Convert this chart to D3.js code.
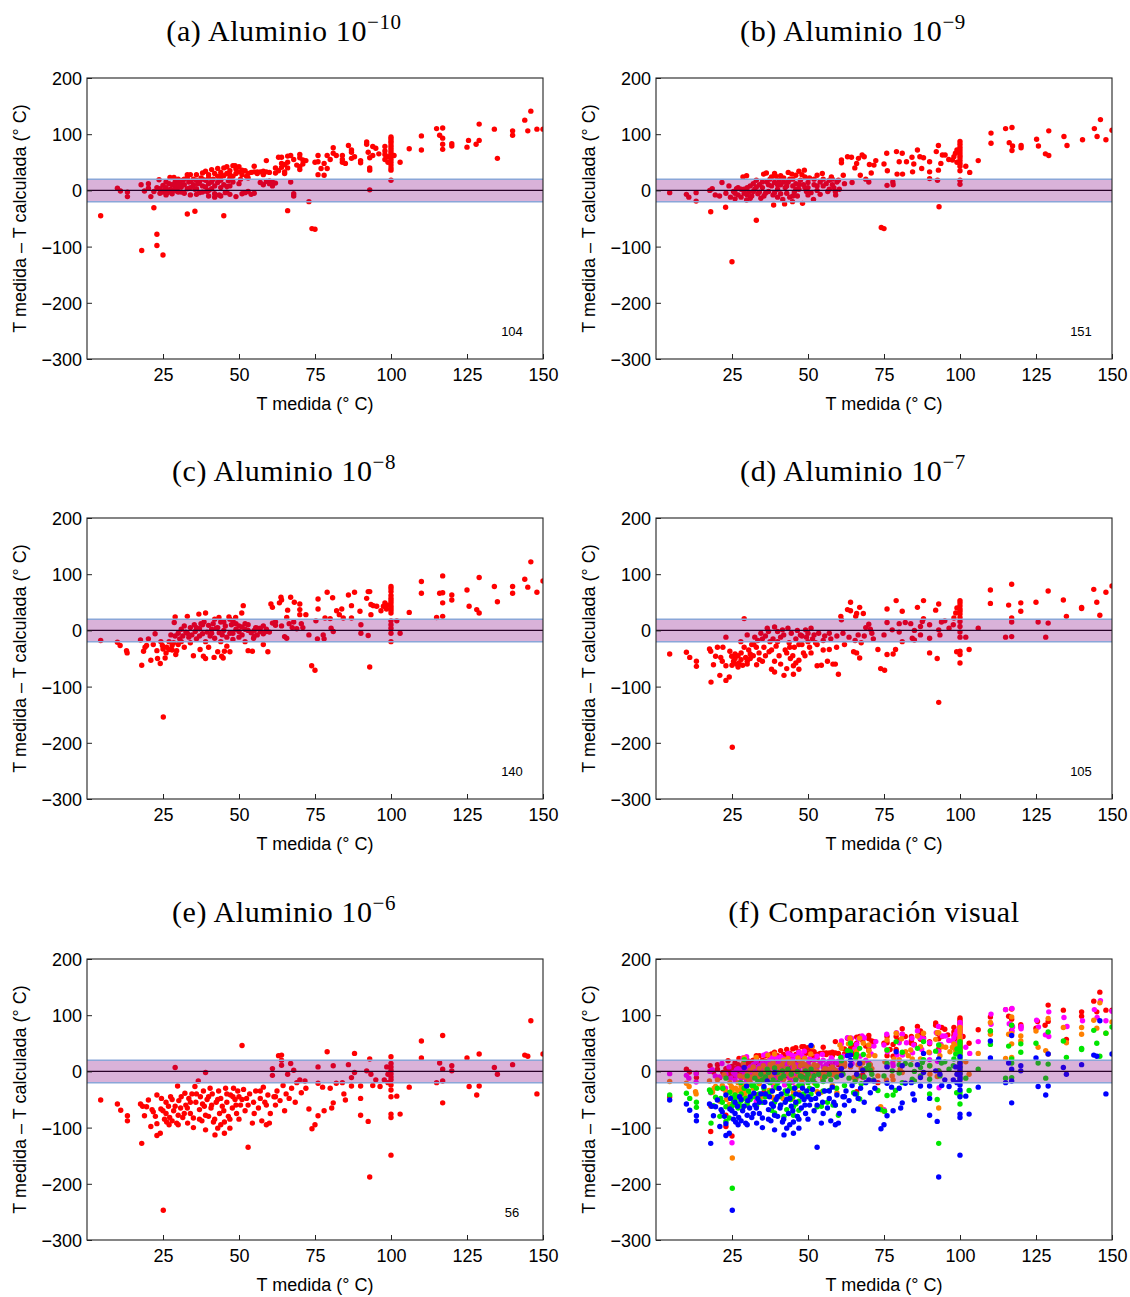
<!DOCTYPE html>
<html><head><meta charset="utf-8">
<script src="https://cdn.jsdelivr.net/npm/d3@7"></script>
<style>body{margin:0;background:#fff}</style>
</head><body>
<svg id="chart" width="1130" height="1297"></svg>
<script>
const xTicks = [25, 50, 75, 100, 125, 150];
const yTicks = [200, 100, 0, -100, -200, -300];
const panelTitles = [
  ["(a) Aluminio 10", "−10"], ["(b) Aluminio 10", "−9"],
  ["(c) Aluminio 10", "−8"], ["(d) Aluminio 10", "−7"],
  ["(e) Aluminio 10", "−6"], ["(f) Comparación visual", ""]
];
const panelCounts = ["104", "151", "140", "105", "56", ""];
const seriesColors = ["#ff0000", "#ff00ff", "#ff8000", "#00e600", "#0000ff"];
const bandLimits = [-20, 20];

const dataA = [[4.5,-45],[10,4],[11,-1],[13.3,-3],[13.3,-11],[18,-107],[17.8,10],[18.9,-1],[20.2,12],[20.2,4],[21,-11],[22,-31],[23,-78],[23,-98],[25,-115],[23.7,19],[24,3],[25,9],[25,-3],[25.5,1],[26,5],[26.5,-4],[27,12],[27.3,23],[27.5,2],[28,-2],[28.6,23],[29,8],[29,15],[29.5,-1],[30,20],[30,5],[30.5,12],[31,-3],[31.5,18],[32,10],[33,-42],[33,28],[33.5,15],[34,28],[34,5],[35.5,-37],[35,20],[35.5,2],[36,28],[36.5,12],[37,-4],[37.5,22],[38,31],[38,8],[39,18],[39,34],[39.5,-2],[40,28],[40,12],[41,37],[41,3],[41.5,20],[42,-6],[42,30],[43,39],[43,14],[43.5,-8],[44,25],[44,5],[45,40],[45,-45],[45,10],[45.5,-4],[46,42],[46,30],[46.5,17],[47,35],[47,8],[48,44],[48,25],[48.7,44],[49,-11],[49,30],[50,42],[50,33],[50.5,20],[51,28],[52,-4],[52,35],[52.5,25],[53,22],[54,-7],[54,32],[55,43],[55,33],[56,33],[57,33],[58,34],[59,53],[59,33],[60,12],[60,32],[61,8],[61,15],[62,31],[62,13],[63,59],[63,35],[64,59],[64,41],[64,48],[65,46],[65,33],[65,30],[66,61],[66,40],[66,-36],[67,62],[67,15],[68,-6],[68,-10],[68,55],[70,64],[70,58],[70,37],[70,42],[71,54],[71,47],[72,53],[73,-20],[74,-68],[75,-69],[75,50],[76,28],[76,62],[76,51],[77,39],[78,27],[78,48],[79,39],[79,62],[80,55],[81,76],[81,66],[82,62],[84,55],[84,62],[84,50],[85,48],[86,80],[87,68],[87,57],[87,72],[88,60],[90,53],[90,49],[92,86],[92,82],[92.5,68],[93,40],[93,36],[93,1],[93,58],[94,62],[94,78],[95,75],[96,65],[98,78],[98,64],[98,55],[98,70],[99,60],[99,50],[100,95],[100,92],[100,88],[100,85],[100,80],[100,76],[100,72],[100,68],[100,64],[100,60],[100,55],[100,50],[100,45],[100,40],[100,36],[100,18],[101,62],[103,50],[106,74],[110,97],[110,72],[115,110],[116,98],[117,111],[117,93],[117,82],[117,73],[120,83],[120,79],[125,77],[125.5,89],[128,82],[129,89],[129,118],[134,109],[135,57],[140,106],[140,98],[144,125],[145,106],[146,141],[148,109],[150,109],[22,-2],[23,5],[24,-5],[26,-8],[28,-6],[30,-3],[32,-5],[34,-8],[36,-7],[38,-3],[40,-10],[42,-12],[44,-10],[46,-3],[47,-7],[30,14],[33,22],[36,18],[40,22],[44,18],[47,22],[50,12],[51,-6],[53,-2],[55,-5],[57,14],[58,10],[59,16],[60,17],[26,15],[27,-1],[28,10],[29,3],[31,6],[32,20],[33,3],[34,16],[35,10],[36,3],[37,15],[38,20],[39,6],[40,0],[41,15],[42,8],[43,25],[44,32],[45,26],[46,7],[47,28],[48,15],[49,38],[51,36],[53,30],[56,30],[58,28],[62,40],[66,50],[69,45]];

const dataB = [[4.5,-4],[10,-7],[10.8,-12],[13.2,-4],[13.2,-19],[18,-38],[17.7,0],[18.5,3],[19.5,-8],[20.9,-10],[21.7,14],[22.9,-30],[23,-5],[24,8],[25,-127],[24.5,-12],[25.5,-2],[26,-15],[26.5,3],[27,-8],[28,2],[28,-12],[28.6,24],[29,-5],[29.8,26],[29.8,-17],[30,5],[30.5,-3],[31,8],[31.5,-10],[32,12],[32.5,2],[33,-53],[33,18],[33.5,-6],[34,10],[34.5,-14],[35,5],[35.4,29],[35.5,-10],[36.3,31],[36.5,15],[37,-2],[37.5,20],[38,8],[38.7,-26],[38.5,-8],[39,30],[39,14],[39.5,25],[40,2],[40,-12],[40.5,18],[41,26],[41,10],[41.7,-16],[42,22],[42.3,-24],[42.5,5],[43,-5],[43.5,32],[43.5,15],[44,-12],[44.7,29],[44.9,-20],[45,20],[45,8],[45.5,-3],[46,27],[46,12],[46.5,-10],[47,34],[47,2],[47.5,18],[48.2,-23],[48.8,36],[48.5,10],[49,24],[49.5,-2],[50,14],[50,5],[50.5,22],[51,-4],[51.8,-16],[52,10],[53,27],[53,0],[54,-7],[54,15],[54.7,30],[55,20],[56,12],[56.5,-2],[57,18],[57.7,24],[58,10],[58.5,5],[59.1,-8],[59.5,15],[60.3,2],[60,18],[61,54],[61,49],[61.6,27],[62,12],[63,60],[64.3,59],[64.5,14],[65.4,40],[66,48],[66.6,57],[67.2,27],[67.8,63],[68.5,60],[69,20],[70,15],[70.2,46],[70.8,31],[71.7,45],[72.3,53],[74.1,-66],[75,-68],[75,47],[75.9,66],[76.1,35],[76,9],[77.9,15],[78,10],[79.1,69],[79.3,29],[80,51],[81,66],[81.1,29],[82.4,51],[84.2,59],[84.4,33],[84.8,47],[86,72],[86.8,60],[87.4,39],[88,58],[90,51],[90,33],[90,21],[92.2,69],[92.9,80],[92.9,36],[92.6,18],[93.1,-29],[93.7,48],[94.2,63],[95.1,63],[96.3,55],[97.5,54],[98,60],[98.5,66],[99,72],[99,50],[100,87],[100,82],[100,77],[100,72],[100,67],[100,62],[100,58],[100,53],[100,48],[100,43],[100,35],[100,18],[100,11],[101.9,43],[103.2,32],[106,53],[110.2,102],[110.2,84],[115,110],[116.2,85],[117.1,112],[117.3,79],[117.1,71],[120.1,80],[120.1,76],[125.2,91],[125.8,79],[128.1,65],[129.2,106],[129.2,62],[134.2,96],[135.2,80],[140.3,90],[144.2,110],[146.2,126],[145.1,96],[148,90],[150,107],[26,-5],[27,5],[29,2],[30,-8],[31,-14],[32,-2],[33,6],[34,-3],[35,15],[36,-5],[37,10],[38,24],[39,-4],[40,10],[41,-6],[42,15],[43,8],[44,20],[45,-10],[46,2],[47,10],[48,28],[49,5],[50,-8],[52,20],[53,8],[55,8],[57,2],[58,20],[59,-2]];

const dataC = [[4.5,-18],[10,-21],[10.9,-27],[13,-36],[13.2,-40],[17.6,-17],[18,-62],[18.6,-37],[19.1,-30],[19.6,-27],[20.2,-15],[21,-53],[21.8,-25],[22.4,-6],[23,-36],[23.2,-50],[24.1,-59],[24.3,-20],[24.8,-27],[25.1,-154],[25,-33],[25.7,-49],[26.2,-30],[27,-34],[27.6,-8],[28,-27],[28.5,-22],[28.7,14],[29,24],[29.2,-43],[29.5,-36],[30,-5],[30.5,-15],[31,2],[31.5,-10],[32,8],[32.5,-3],[33,25],[33.5,-12],[34,5],[34.5,-8],[35,-45],[35.3,10],[35.6,-2],[36,-15],[36.8,29],[37,3],[37.2,-34],[37.5,12],[38,-6],[38.3,-46],[38.5,15],[39,-50],[39,31],[39.5,-3],[40,9],[40.5,-10],[41,2],[41.5,12],[41.8,-48],[42,-14],[42.5,4],[43,-38],[43.4,23],[43.5,-4],[44,15],[44.3,-46],[44.5,-8],[44.8,-49],[45,0],[45.2,-37],[45.5,8],[46,-12],[46.7,24],[47,-38],[47,-5],[47.5,10],[48,-16],[48,17],[48.9,23],[49,2],[50,-2],[50,8],[50.9,31],[51.4,44],[51,-8],[52,12],[52,2],[53,-36],[53,0],[54,-4],[54.4,-37],[54.8,-14],[55,0],[55.5,5],[56,-8],[57,4],[57,-2],[58,-25],[58,-6],[59,2],[59.5,-38],[59,-2],[60,-3],[60.5,47],[61,41],[61,13],[62,9],[62,15],[63.3,49],[63.8,59],[64,54],[64,8],[65,-11],[65.7,-14],[65.7,23],[66,36],[66.5,12],[67,59],[67.5,5],[68.2,50],[68,15],[69,3],[70,47],[70,37],[70,28],[70.5,12],[71,5],[72,28],[73,-8],[73.9,-63],[75,-71],[75.3,17],[75.8,-15],[76,38],[76,56],[77.7,-8],[78,-15],[78.3,22],[79,68],[80,21],[80.3,4],[80.8,58],[81,-2],[82.1,35],[83,28],[83.8,38],[84.3,22],[86,63],[87,44],[87,22],[88,68],[89.8,34],[90.1,10],[90.1,-5],[92,57],[92.5,69],[93,69],[93.4,46],[93.4,28],[92.5,-9],[93,-65],[94.2,44],[95.3,43],[96.7,35],[97.5,43],[98,49],[98.5,38],[99,45],[100,78],[100,74],[100,69],[100,62],[100,57],[100,53],[100,49],[100,44],[100,40],[100,36],[100,31],[100,17],[100,10],[100,4],[100,-5],[100,-20],[101.9,17],[103,-5],[106,32],[110,87],[110,66],[115,23],[116,66],[117,67],[117,97],[117,49],[117,25],[120,63],[120,54],[125,72],[125.7,43],[128.2,37],[129,94],[129,31],[134,78],[135,51],[140,78],[140,66],[144,91],[145,77],[146,122],[148,68],[150,88],[26,-40],[27,-20],[28,-35],[29,-10],[30,-25],[31,-20],[32,-30],[33,-5],[34,-22],[36,5],[37,-10],[38,10],[39,-20],[40,-30],[41,-5],[42,20],[43,5],[44,-20],[45,15],[46,-28],[47,20],[48,-5],[49,12],[50,-12],[51,6],[52,-20],[53,10],[55,-10],[56,4],[58,8]];

const dataD = [[4.5,-42],[10,-39],[11.1,-48],[13.3,-55],[13.3,-64],[17.6,-33],[18,-37],[18.1,-92],[18.9,-61],[19.6,-46],[20.2,-30],[21,-80],[21.3,-48],[21.8,-55],[22,-30],[23,-12],[23,-63],[23,-89],[24.1,-83],[24.3,-37],[24.9,-46],[25.1,-208],[25.5,-55],[26,-50],[26.5,-60],[27,-45],[27.3,-58],[27.9,-20],[28,-52],[28.5,-62],[29,21],[29.5,-48],[30,-8],[30,-55],[30.5,-35],[31,-42],[31.5,-25],[32.2,-25],[32.5,-12],[33.1,-61],[33.5,-18],[33.9,-40],[34.5,-5],[35,-55],[35.5,-30],[36,-10],[36.6,4],[37.2,-38],[37.5,-20],[38,-69],[38.5,-15],[39,-74],[39,6],[39.5,-28],[40,-2],[40.5,-45],[41,-12],[41.6,1],[42.1,-80],[42.5,-35],[43,-68],[43.4,4],[43.8,-22],[44.2,-50],[44.5,-5],[45.2,-78],[45.2,-63],[45.5,-30],[46,-15],[46.5,0],[47,-53],[47,-69],[47.5,-8],[48,-25],[48.5,-40],[49.2,1],[49.5,-12],[50,-20],[50.5,-30],[51,4],[51.5,-15],[52,-8],[52.5,-22],[53,-63],[53.5,-5],[54.4,-62],[55,-18],[55.5,-10],[56.4,-55],[57,-34],[57.5,-15],[58.2,-60],[59,-60],[59.4,-30],[59.5,-10],[60,-78],[60.8,25],[61,19],[61.5,-5],[62,-25],[63,37],[63.5,-12],[64,50],[64,35],[65,-38],[65.5,-18],[65.7,25],[66,30],[66,-40],[66.5,-8],[67,41],[67,-49],[67.5,-22],[68.2,30],[68.5,-10],[69,5],[70,11],[70.5,2],[71,-5],[71.5,-15],[73,-34],[73.9,-68],[75.2,-71],[75,-8],[76,38],[76,14],[76,-43],[77.7,1],[78,-42],[78.8,-34],[79,53],[80,12],[80,-3],[81,34],[81,-20],[82,14],[83.8,12],[84.3,-14],[85,0],[85,-17],[86,41],[87,7],[87,-8],[87.6,16],[88,53],[88,21],[90,10],[90,-40],[90,-14],[92,36],[92.5,-50],[93,47],[93,-128],[93,1],[93.4,-8],[93.9,15],[95,17],[96.4,4],[97.8,10],[98,22],[98.6,31],[98.9,-38],[99,40],[100,53],[100,49],[100,44],[100,38],[100,34],[100,29],[100,23],[100,16],[100,7],[100,-3],[100,-12],[100,-37],[100,-43],[100,-58],[101.9,-12],[103,-34],[106,4],[110,72],[110,48],[115,-12],[116,45],[117,82],[117,22],[117,15],[117,-11],[120,49],[120,34],[125,50],[125.7,15],[128.2,-12],[129,70],[129,13],[134,54],[135,25],[140,41],[140,39],[144,73],[145,50],[146,27],[148,68],[150,79],[25,-62],[26,-42],[27,-65],[28,-40],[29,-30],[30,-60],[31,-50],[32,-45],[33,-30],[34,-52],[35,-15],[36,-45],[37,-2],[38,-35],[39,-55],[40,-20],[41,-60],[42,-8],[43,-40],[44,-30],[45,-45],[46,-58],[47,-25],[48,-10],[49,-45],[50,-5],[51,-40],[53,-25],[55,-35],[57,-5]];

const dataE = [[4.5,-51],[10,-58],[11.1,-69],[13.3,-79],[13.3,-88],[17.6,-58],[18,-128],[18.3,-62],[18.9,-79],[19.6,-63],[20.2,-51],[21,-98],[21.4,-68],[21.8,-72],[22.5,-80],[23,-42],[23,-93],[23,-114],[24.1,-110],[24.3,-67],[24.5,-48],[25.1,-247],[25.5,-85],[26,-75],[26.2,-90],[26.8,-62],[27.2,-82],[27.5,-45],[28,-88],[28.5,-70],[29,7],[29.5,-92],[29.8,-26],[30,-78],[30.2,-52],[30.8,-65],[31.5,-82],[32.2,-39],[32.5,-60],[33.1,-92],[33.5,-48],[34,-75],[34.5,-40],[35,-83],[35.5,-27],[35.8,-55],[36.6,-17],[37,-68],[37.3,-45],[37.8,-88],[38.3,-35],[38.6,-62],[39,-2],[39,-104],[39.5,-50],[40,-80],[40.5,-30],[40.8,-65],[41.2,-40],[41.6,-90],[42.1,-113],[42.5,-55],[43,-101],[43.3,-35],[43.6,-75],[44,-48],[44.5,-62],[45.2,-110],[45.2,-90],[45.6,-30],[46,-55],[46.5,-80],[47,-101],[47.2,-42],[47.8,-65],[48.2,-30],[48.7,-50],[49.2,-75],[49.6,-35],[50,-45],[50.5,-60],[51,46],[51.5,-32],[52,-70],[52.5,-48],[53,-135],[53.5,-40],[54.4,-92],[54.8,-55],[55.5,-35],[56.4,-65],[57,-48],[57.5,-88],[58,-28],[58.5,-55],[59,-95],[59.5,-42],[60,-92],[60.3,-75],[61,5],[61,-7],[61.5,-45],[62,-60],[62.5,-35],[63,28],[63.5,-52],[64,29],[64,20],[64,11],[64.5,-25],[65,-70],[65.5,-40],[66,-5],[66.5,-48],[67,14],[67.3,-30],[68,2],[68.5,-55],[69,-20],[70,-15],[70.5,-38],[71.7,-17],[72,-30],[73,-67],[74,-102],[75,-95],[76,8],[76,-21],[76,-79],[77.5,-28],[78,-70],[79,35],[80,-30],[80.5,-65],[81,10],[81,-56],[82,-21],[84,-20],[84.5,-40],[85,-51],[86,12],[87,-11],[87,-26],[88,32],[88,-2],[90,-26],[90,-48],[90,-78],[92,1],[92.5,-89],[93,22],[93,-188],[93.4,-5],[94,-25],[95,-15],[96.4,-27],[97.8,-15],[98.6,8],[99,-20],[99,-5],[100,26],[100,14],[100,8],[100,2],[100,-4],[100,-10],[100,-15],[100,-24],[100,-33],[100,-45],[100,-76],[100,-82],[100,-149],[101.9,-44],[103,-76],[106,-28],[110,54],[110,24],[115,-20],[116,15],[117,64],[117,4],[117,-17],[117,-56],[120,10],[120,1],[125,24],[125.7,-27],[128.2,-42],[129,31],[129,-26],[134,7],[135,-5],[140,12],[144,29],[145,27],[146,90],[148,-40],[150,31],[25,-70],[26,-55],[27,-95],[28,-50],[29,-62],[30,-95],[31,-45],[32,-75],[33,-65],[34,-55],[35,-100],[36,-40],[37,-85],[38,-58],[39,-78],[40,-45],[41,-60],[42,-85],[43,-50],[44,-95],[45,-70],[46,-40],[47,-85],[48,-45],[49,-60],[50,-85],[51,-50],[53,-60],[55,-75],[57,-35],[59,-60],[62,-45]];

const allSeries = [dataA, dataB, dataC, dataD, dataE];

// layout
const colLeft = [87, 656];
const rowTop = [78, 518, 959];
const plotW = 456, plotH = 281;
const titleCenters = [284, 853, 284, 853, 284, 874];

const svg = d3.select("#chart");
const sans = "'Liberation Sans', Arial, sans-serif";
const serif = "'Liberation Serif', 'Times New Roman', serif";

for (let p = 0; p < 6; p++) {
  const left = colLeft[p % 2], top = rowTop[Math.floor(p / 2)];
  const x = d3.scaleLinear().domain([0, 150]).range([0, plotW]);
  const y = d3.scaleLinear().domain([-300, 200]).range([plotH, 0]);
  const g = svg.append("g").attr("transform", `translate(${left},${top})`);

  const clipId = "clip" + p;
  g.append("clipPath").attr("id", clipId).append("rect")
    .attr("width", plotW).attr("height", plotH);
  const inner = g.append("g").attr("clip-path", `url(#${clipId})`);

  const seriesList = p < 5 ? [[allSeries[p], seriesColors[0]]] :
    allSeries.map((d, i) => [d, seriesColors[i]]);
  seriesList.forEach(([data, color]) => {
    inner.append("g").selectAll("circle").data(data).join("circle")
      .attr("cx", d => x(d[0])).attr("cy", d => y(d[1]))
      .attr("r", 2.7).attr("fill", color);
  });

  inner.append("line").attr("x1", 0).attr("x2", plotW)
    .attr("y1", y(0)).attr("y2", y(0)).attr("stroke", "#000").attr("stroke-width", 1.3);
  inner.append("rect").attr("x", 0).attr("width", plotW)
    .attr("y", y(bandLimits[1])).attr("height", y(bandLimits[0]) - y(bandLimits[1]))
    .attr("fill", "#800080").attr("fill-opacity", 0.3);
  bandLimits.forEach(v => {
    inner.append("line").attr("x1", 0).attr("x2", plotW)
      .attr("y1", y(v)).attr("y2", y(v))
      .attr("stroke", "#8aa6d8").attr("stroke-width", 1.5);
  });

  // axes
  const xa = g.append("g").attr("transform", `translate(0,${plotH})`)
    .call(d3.axisBottom(x).tickValues(xTicks).tickSizeInner(-5).tickSizeOuter(0).tickPadding(9));
  const ya = g.append("g")
    .call(d3.axisLeft(y).tickValues(yTicks).tickSizeInner(-5).tickSizeOuter(0).tickPadding(5));
  [xa, ya].forEach(a => {
    a.select(".domain").remove();
    a.selectAll("text").attr("font-family", sans).attr("font-size", 18).attr("fill", "#000");
    a.selectAll("line").attr("stroke", "#222");
  });
  ya.selectAll("text").attr("dy", "0.36em");

  g.append("rect").attr("width", plotW).attr("height", plotH)
    .attr("fill", "none").attr("stroke", "#222").attr("stroke-width", 1.1);

  // labels
  g.append("text").attr("x", plotW / 2).attr("y", plotH + 51)
    .attr("text-anchor", "middle").attr("font-family", sans).attr("font-size", 18)
    .text("T medida (° C)");
  g.append("text").attr("transform", `translate(-67,${plotH / 2}) rotate(-90)`)
    .attr("text-anchor", "middle").attr("dominant-baseline", "central")
    .attr("font-family", sans).attr("font-size", 18)
    .text("T medida – T calculada (° C)");
  if (panelCounts[p]) {
    g.append("text").attr("x", plotW - 31).attr("y", plotH - 23)
      .attr("text-anchor", "middle").attr("font-family", sans).attr("font-size", 13)
      .text(panelCounts[p]);
  }

  // title
  const t = svg.append("text").attr("x", titleCenters[p]).attr("y", top - 37)
    .attr("text-anchor", "middle").attr("font-family", serif).attr("font-size", 30)
    .attr("letter-spacing", 0.6);
  t.append("tspan").text(panelTitles[p][0]);
  if (panelTitles[p][1]) {
    t.append("tspan").attr("dy", -12).attr("font-size", 21).text(panelTitles[p][1]);
  }
}
</script>
</body></html>
